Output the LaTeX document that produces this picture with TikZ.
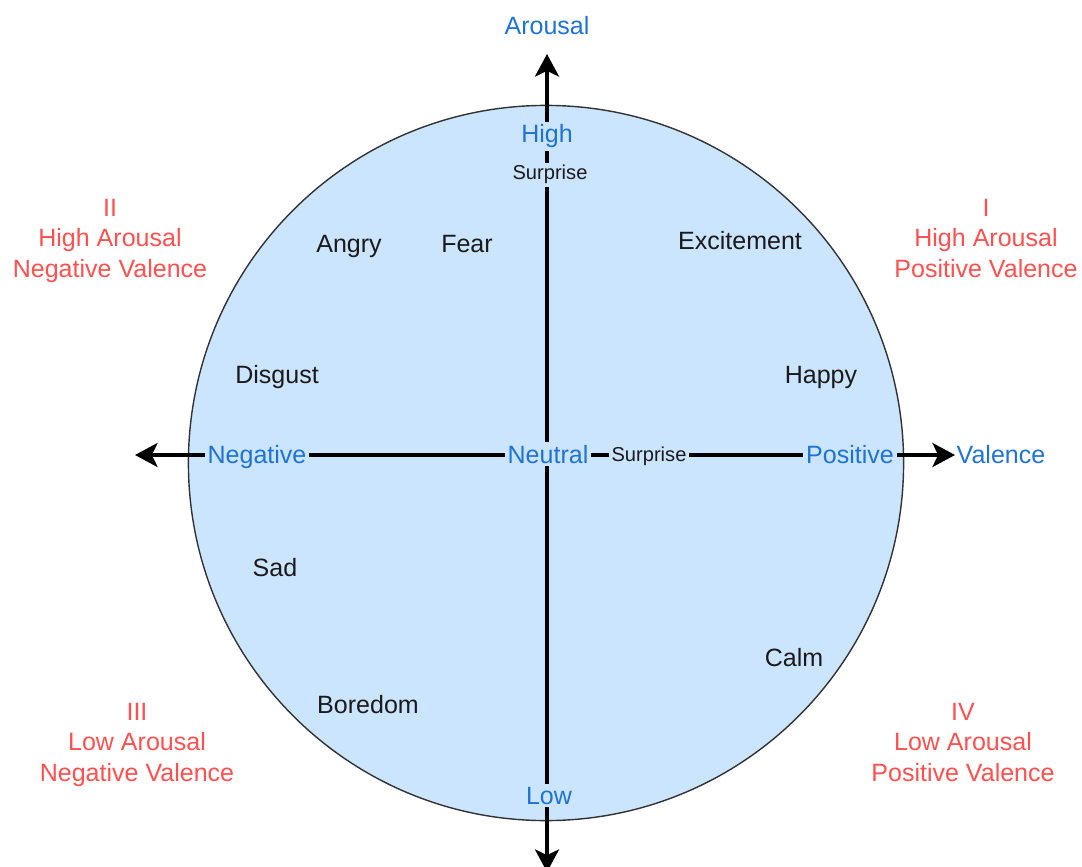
\documentclass[tikz,border=0pt]{standalone}
\usepackage{fontspec}
\setmainfont{Liberation Sans}
\usetikzlibrary{arrows.meta}
\definecolor{wheelfill}{HTML}{CCE5FF}
\definecolor{axisblue}{HTML}{1E73D6}
\definecolor{quadred}{HTML}{FF4F4F}
\definecolor{emoink}{HTML}{1A1A1A}

\begin{document}
\begin{tikzpicture}[x=0.025cm, y=-0.025cm, font=\fontsize{17.8}{21.6}\selectfont,
  axis/.style={line width=2.85pt, {Stealth[length=16pt, width=17pt, inset=4pt]}-{Stealth[length=16pt, width=17pt, inset=4pt]}},
  emo/.style={text=emoink, anchor=base, inner sep=0pt},
  axlab/.style={text=axisblue, anchor=base, inner sep=0pt},
  onaxis/.style={text=axisblue, anchor=base, fill=wheelfill, inner sep=2pt},
  quad/.style={text=quadred, anchor=base, align=center, inner sep=0pt},
  smalltxt/.style={font=\fontsize{14.3}{17}\selectfont, text=emoink}]
  \useasboundingbox (0,0) rectangle (1082,866);

  % circle
  \node[draw=black!80, fill=wheelfill, line width=1pt, circle, inner sep=0pt, minimum size=17.875cm] (wheel) at (546,463) {};

  % axes
  \coordinate (vlo) at (547,872);
  \coordinate (vhi) at (547,54);
  \coordinate (hlo) at (135,455);
  \coordinate (hhi) at (955,455);
  \draw[axis] (vlo) -- (vhi);
  \draw[axis] (hlo) -- (hhi);

  % axis labels
  \node[axlab] (arousal) at (547,35) {Arousal};
  \node[axlab] (valence) at (1001,463) {Valence};
  \node[onaxis] (high) at (547,143) {High};
  \node[onaxis, smalltxt] (surtop) at (550,180) {Surprise};
  \node[onaxis] (neg) at (257,463) {Negative};
  \node[onaxis] (neutral) at (548,463) {Neutral};
  \node[onaxis, smalltxt] (surmid) at (649,461) {Surprise};
  \node[onaxis] (pos) at (850,463) {Positive};
  \node[onaxis] (low) at (549,804) {Low};

  % emotions
  \node[emo] (angry) at (349,252) {Angry};
  \node[emo] (fear) at (467,252) {Fear};
  \node[emo] (excite) at (740,249) {Excitement};
  \node[emo] (disgust) at (277,383) {Disgust};
  \node[emo] (happy) at (821,383) {Happy};
  \node[emo] (sad) at (275,576) {Sad};
  \node[emo] (calm) at (794,666) {Calm};
  \node[emo] (boredom) at (368,713) {Boredom};

  % quadrants (base = last line)
  \node[quad] (q1) at (986,277) {I\\High Arousal\\Positive Valence};
  \node[quad] (q2) at (110,277) {II\\High Arousal\\Negative Valence};
  \node[quad] (q3) at (137,781) {III\\Low Arousal\\Negative Valence};
  \node[quad] (q4) at (963,781) {IV\\Low Arousal\\Positive Valence};
\end{tikzpicture}
\end{document}
